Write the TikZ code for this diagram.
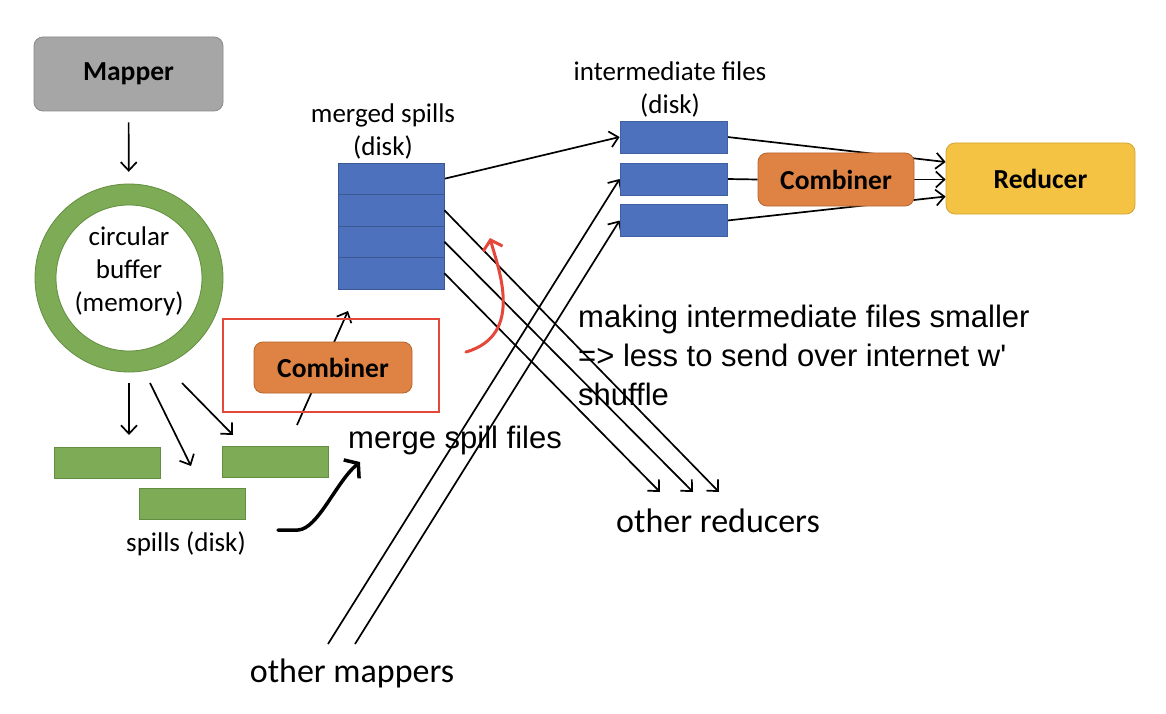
\documentclass[tikz,border=0pt]{standalone}
\usepackage{fontspec}
\setmainfont{Carlito}
\newfontfamily\helv{Liberation Sans}
\usetikzlibrary{arrows.meta,calc}
\pgfdeclarelayer{bg}
\pgfsetlayers{bg,main}
\definecolor{mgray}{HTML}{A6A6A6}
\definecolor{mgrayd}{HTML}{8A8A8A}
\definecolor{mgreen}{HTML}{7EAB55}
\definecolor{mgreend}{HTML}{638E40}
\definecolor{mblue}{HTML}{4E71BE}
\definecolor{mblued}{HTML}{3A5894}
\definecolor{morange}{HTML}{DF8344}
\definecolor{moranged}{HTML}{B5652C}
\definecolor{mgold}{HTML}{F4C343}
\definecolor{mgoldd}{HTML}{D4A531}
\definecolor{mred}{HTML}{E5473A}
\begin{document}
\begin{tikzpicture}[x=1pt,y=-1pt,
  cal/.style={font=\fontsize{27}{33}\selectfont},
  calb/.style={font=\fontsize{27.5}{33}\selectfont\bfseries},
  big/.style={font=\fontsize{34}{40}\selectfont},
  hel/.style={font=\helv\fontsize{31}{39}\selectfont},
  box/.style={draw, line width=0.8pt, inner sep=0pt},
  rbox/.style={box, rounded corners=9pt},
  greenbox/.style={box, fill=mgreen, draw=mgreend, minimum width=106pt, minimum height=31pt},
  bluebox/.style={box, fill=mblue, draw=mblued, minimum width=106pt, minimum height=31.5pt},
  ibox/.style={box, fill=mblue, draw=mblued!70!mblue, minimum width=107pt, minimum height=32pt},
  arr/.style={line width=1.7pt, -{Straight Barb[length=8.5pt,width=16pt,line width=1.7pt]}},
  ln/.style={line width=1.7pt},
]
\useasboundingbox (0,0) rectangle (1166,714);

% Mapper
\node[rbox, fill=mgray, draw=mgrayd, minimum width=189pt, minimum height=74pt, calb] (mapper) at (128.5,74) {Mapper};

% circular buffer
\fill[mgreen, draw=mgreend, line width=0.8pt, even odd rule] (129,278) circle[radius=94pt] (129,278) circle[radius=73pt];
\node[circle, minimum size=188pt, inner sep=0pt] (ring) at (129,278) {};
\node[cal, align=center, inner sep=0pt] (buftext) at (129,271) {circular\\buffer\\(memory)};

% spills
\node[greenbox] (sp1) at (107.5,462.5) {};
\node[greenbox] (sp2) at (192,503.5) {};
\node[greenbox] (sp3) at (275.5,462) {};
\node[cal] (spilltext) at (186,544) {spills (disk)};

% combiner 1 in red frame
\node[draw=mred, line width=2pt, minimum width=216pt, minimum height=93pt] (redbox) at (331,365.5) {};
\coordinate (cl0) at (297,425);
\coordinate (cl1) at (348,311);

% merged spills
\node[bluebox] (m1) at (391,178.75) {};
\node[bluebox] (m2) at (391,210.25) {};
\node[bluebox] (m3) at (391,241.75) {};
\node[bluebox] (m4) at (391,273.25) {};
\node[cal, align=center, inner sep=0pt] (mtext) at (383,131) {merged spills\\(disk)};

% intermediate files
\node[ibox] (i1) at (673.5,137) {};
\node[ibox] (i2) at (673.5,179) {};
\node[ibox] (i3) at (673.5,220.5) {};
\node[cal, align=center, inner sep=0pt] (itext) at (670,89) {intermediate files\\(disk)};

% combiner 2 and reducer
\node[rbox, fill=morange, draw=moranged, minimum width=156pt, minimum height=53pt, calb] (comb2) at (836,179.5) {Combiner};
\node[rbox, fill=mgold, draw=mgoldd, minimum width=189pt, minimum height=71pt, calb] (red) at (1040.5,178.5) {Reducer};

% other reducers / mappers
\coordinate (or1) at (660,492);
\coordinate (or2) at (693,492);
\coordinate (or3) at (719,492);
\coordinate (om1) at (328,644);
\coordinate (om2) at (355,644);
\node[big] (ortext) at (718,521) {other reducers};
\node[big] (omtext) at (352,673) {other mappers};

% spill arrow coordinates
\coordinate (a1s) at (129,383);
\coordinate (a1e) at (129,435);
\coordinate (a2s) at (150,383);
\coordinate (a2e) at (191,466);
\coordinate (a3s) at (182,383);
\coordinate (a3e) at (233,435);

% annotations
\node[hel, anchor=west, inner sep=0pt] (mergetext) at (348,440) {merge spill files};
\node[hel, anchor=base west, align=left, inner sep=0pt] (maketext) at (578,405) {making intermediate files smaller\\=> less to send over internet w\textquotesingle\\shuffle};

\begin{pgfonlayer}{bg}
  \fill[white] (0,0) rectangle (1166,714);
  \draw[arr, shorten <=11pt, shorten >=12pt] (mapper) -- (ring);
  \draw[arr] (a1s) -- (a1e);
  \draw[arr] (a2s) -- (a2e);
  \draw[arr] (a3s) -- (a3e);
  \draw[arr] (cl0) -- (cl1);
  \draw[arr] (m1.east) -- (i1.west);
  \draw[arr] (om1) -- (i2.west);
  \draw[arr] (om2) -- (i3.west);
  \draw[arr] (i1.east) -- ($(red.west)+(0,-16.5)$);
  \draw[arr] (i3.east) -- ($(red.west)+(0,18)$);
  \draw[ln] (i2.east) -- (comb2.west);
  \draw[arr] (comb2.east) -- (red.west |- comb2.east);
\end{pgfonlayer}
\draw[arr] (m2.east) -- (or3);
\draw[arr] (m3.east) -- (or2);
\draw[arr] (m4.east) -- (or1);

\node[rbox, fill=morange, draw=moranged, minimum width=158pt, minimum height=51pt, calb] (comb1) at (333,367.5) {Combiner};

% hand-drawn arrows
\coordinate (h0) at (278,530);
\coordinate (h1) at (360,462);
\draw[line width=3.5pt, line cap=round, -{Straight Barb[length=9pt,width=24pt,line width=3.5pt]}] (h0) -- (298,530) .. controls (318,529) and (336,482) .. (h1);
\coordinate (r0) at (466,352);
\coordinate (r1) at (490,238);
\draw[mred, line width=3pt, line cap=round, -{Straight Barb[length=9pt,width=20pt,line width=3pt]}] (r0) .. controls (525,335) and (498,268) .. (r1);
\end{tikzpicture}
\end{document}
